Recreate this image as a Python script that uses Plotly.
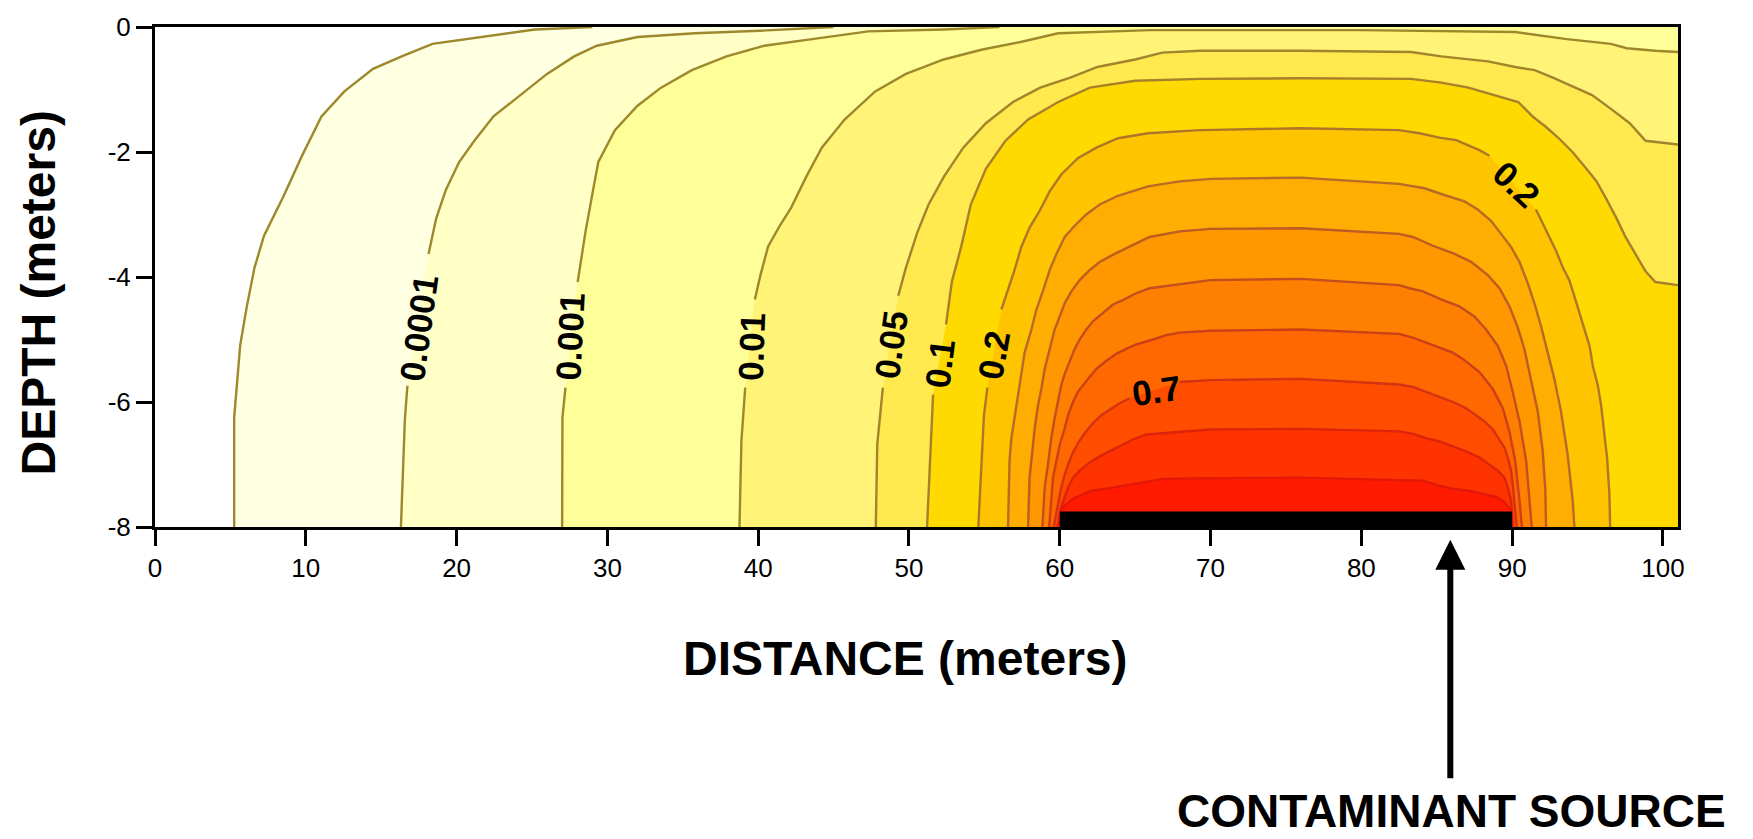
import plotly.graph_objects as go

# ---------------- data ----------------
# contour levels (relative concentration)
LEVELS = [0.00001, 0.0001, 0.001, 0.01, 0.05, 0.1, 0.2, 0.3, 0.4, 0.5, 0.6, 0.7, 0.8, 0.9]

# contour lines: distance (m) and depth (m); None marks the gap where a label sits
X_1E5 = [5.25, 5.25, 5.65, 6.09, 6.6, 7.23, 8.5, 9.77, 11.04, 12.56, 14.46, 16.36, 18.4, 21.7, 25.2, 29.0]
D_1E5 = [-8.0, -6.25, -5.09, -4.47, -3.85, -3.34, -2.72, -2.05, -1.43, -1.03, -0.67, -0.47, -0.27, -0.16, -0.04, 0.0]

X_1E4 = [16.31, 16.57, 16.74, None, 18.14, 18.65, 19.28, 20.17, 21.18, 22.45, 24.23, 26.0, 27.8, 29.3, 32.0, 35.8, 40.1, 45.0]
D_1E4 = [-8.0, -6.28, -5.74, None, -3.63, -3.06, -2.61, -2.16, -1.82, -1.43, -1.09, -0.75, -0.47, -0.3, -0.16, -0.1, -0.06, 0.0]

X_1E3 = [27.0, 27.02, 27.22, None, 28.03, 28.54, 29.05, 29.4, 30.5, 32.0, 33.56, 35.6, 37.9, 40.4, 43.7, 47.3, 52.3, 56.0]
D_1E3 = [-8.0, -6.25, -5.77, None, -4.08, -3.29, -2.61, -2.16, -1.65, -1.26, -0.97, -0.69, -0.47, -0.3, -0.19, -0.07, -0.04, 0.0]

X_1E2 = [38.76, 38.89, 39.14, None, 39.78, 40.15, 40.66, 41.43, 42.19, 43.2, 44.22, 45.73, 47.76, 49.8, 52.3,
         54.87, 57.4, 59.9, 66.0, 80.0, 90.2, 93.5, 96.55, 97.6, 99.5, 101.0]
D_1E2 = [-8.0, -6.62, -5.77, None, -4.36, -3.97, -3.51, -3.18, -2.89, -2.39, -1.93, -1.48, -1.03, -0.75, -0.52,
         -0.36, -0.24, -0.1, -0.05, -0.05, -0.08, -0.19, -0.27, -0.34, -0.38, -0.4]

X_5E2 = [47.8, 47.9, 48.27, None, 49.29, 49.8, 50.55, 51.3, 52.33, 53.6, 55.1, 56.9, 58.7, 60.7, 62.5, 65.0, 66.8,
         69.3, 76.0, 83.3, 85.3, 88.4, 90.2, 91.5, 92.7, 94.0, 95.3, 96.55, 97.8, 98.85, 101.0]
D_5E2 = [-8.0, -6.67, -5.77, None, -4.3, -3.85, -3.29, -2.84, -2.39, -1.93, -1.54, -1.2, -0.97, -0.81, -0.64, -0.52,
         -0.41, -0.38, -0.38, -0.4, -0.47, -0.55, -0.64, -0.69, -0.81, -0.95, -1.09, -1.31, -1.54, -1.82, -1.88]

X_1E1 = [51.2, 51.3, 51.6, None, 52.46, 52.84, 53.47, 54.1, 55.1, 56.4, 57.9, 59.9, 62.0, 65.0, 69.3, 76.0, 83.3,
         85.3, 87.1, 88.9, 90.4, 91.4, 92.25, 93.1, 94.0, 94.9, 95.6, 96.2, 96.9, 97.5, 98.2, 98.85, 99.5, 101.0]
D_1E1 = [-8.0, -7.41, -5.88, None, -4.76, -4.08, -3.51, -2.84, -2.27, -1.82, -1.48, -1.2, -0.97, -0.86, -0.83, -0.82,
         -0.83, -0.89, -0.97, -1.09, -1.2, -1.44, -1.6, -1.78, -2.0, -2.26, -2.47, -2.73, -3.05, -3.35, -3.65, -3.91,
         -4.08, -4.13]

X_2E1 = [54.6, 54.7, 54.97, 55.2, None, 56.13, 56.57, 57.0, 57.45, 58.0, 58.67, 59.33, 60.1, 61.2, 62.43, 63.86,
         65.85, 69.3, 76.0, 82.5, 83.86, 85.18, 86.29, 86.95, 87.83, 88.5, None, 91.58, 92.03, 92.47, 92.91, 93.35,
         93.79, 94.13, 94.46, 94.79, 95.13, 95.35, 95.68, 95.9, 96.12, 96.3, 96.45, 96.5]
D_2E1 = [-8.0, -7.46, -6.22, -5.77, None, -4.52, -4.21, -3.89, -3.52, -3.21, -2.94, -2.63, -2.36, -2.10, -1.93,
         -1.78, -1.70, -1.65, -1.62, -1.65, -1.70, -1.77, -1.81, -1.88, -1.97, -2.06, None, -2.92, -3.15, -3.36,
         -3.58, -3.84, -4.05, -4.31, -4.57, -4.84, -5.10, -5.42, -5.73, -6.05, -6.47, -6.9, -7.47, -8.0]

X_3E1 = [56.57, 56.67, 56.79, 57.0, 57.23, 57.45, 57.67, 58.12, 58.45, 58.9, 59.33, 59.78, 60.33, 60.99, 61.76,
         62.65, 63.86, 65.85, 67.95, 70.0, 76.0, 82.5, 84.19, 85.4, 86.84, 87.72, 88.6, 89.27, 89.93, 90.49, 91.04,
         91.48, 91.92, 92.36, 92.8, 93.24, 93.68, 94.02, 94.13]
D_3E1 = [-8.0, -6.94, -6.58, -6.26, -5.84, -5.52, -5.21, -4.84, -4.52, -4.21, -3.89, -3.63, -3.36, -3.18, -3.0,
         -2.84, -2.70, -2.55, -2.47, -2.43, -2.41, -2.51, -2.58, -2.68, -2.79, -2.92, -3.1, -3.31, -3.52, -3.76,
         -4.1, -4.42, -4.79, -5.21, -5.63, -6.15, -6.84, -7.58, -8.0]

X_4E1 = [57.9, 58.0, 58.18, 58.34, 58.56, 58.78, 59.0, 59.33, 59.66, 60.0, 60.33, 60.77, 61.32, 61.98, 62.65, 63.64,
         64.63, 65.96, 67.95, 70.0, 76.0, 82.5, 83.42, 84.75, 86.19, 87.3, 88.39, 89.16, 89.82, 90.35, 90.81, 91.26,
         91.7, 92.03, 92.2, 92.25]
D_4E1 = [-8.0, -7.21, -6.79, -6.42, -6.05, -5.79, -5.47, -5.15, -4.84, -4.63, -4.42, -4.23, -4.05, -3.89, -3.76,
         -3.63, -3.52, -3.36, -3.27, -3.23, -3.22, -3.31, -3.36, -3.5, -3.63, -3.76, -3.97, -4.18, -4.47, -4.79,
         -5.15, -5.63, -6.15, -6.79, -7.4, -8.0]

X_5E1 = [58.85, 59.0, 59.22, 59.44, 59.66, 59.89, 60.1, 60.33, 60.66, 60.99, 61.32, 61.76, 62.2, 62.87, 63.53,
         64.19, 65.07, 65.96, 67.95, 70.0, 76.0, 82.5, 83.2, 84.08, 85.4, 86.5, 87.5, 88.27, 89.05, 89.6, 90.04,
         90.49, 90.93, 91.15, 91.3]
D_5E1 = [-8.0, -7.37, -7.0, -6.58, -6.26, -6.0, -5.73, -5.55, -5.34, -5.15, -5.0, -4.84, -4.71, -4.58, -4.44,
         -4.37, -4.26, -4.18, -4.11, -4.05, -4.03, -4.13, -4.18, -4.23, -4.37, -4.47, -4.63, -4.84, -5.1, -5.42,
         -5.84, -6.31, -6.94, -7.5, -8.0]

X_6E1 = [59.3, 59.44, 59.55, 59.78, 60.0, 60.33, 60.55, 60.88, 61.2, 61.87, 62.43, 63.09, 63.75, 64.41, 65.07,
         66.18, 67.07, 67.95, 70.0, 76.0, 82.5, 83.42, 84.3, 85.18, 86.07, 86.73, 87.83, 88.72, 89.38, 89.82, 90.2,
         90.49, 90.65]
D_6E1 = [-8.0, -7.63, -7.21, -6.94, -6.68, -6.42, -6.21, -6.0, -5.84, -5.63, -5.47, -5.34, -5.23, -5.15, -5.08,
         -5.0, -4.93, -4.89, -4.86, -4.84, -4.91, -4.97, -5.05, -5.13, -5.21, -5.31, -5.52, -5.79, -6.1, -6.47,
         -6.94, -7.58, -8.0]

X_7E1 = [59.6, 59.89, 60.1, 60.33, 60.55, 60.88, 61.2, 61.65, 62.2, 62.76, 63.31, 63.97, 64.63, None, 67.95, 70.0,
         76.0, 82.5, 83.42, 84.3, 85.18, 86.07, 86.95, 87.61, 88.16, 88.72, 89.16, 89.49, 89.71, 89.93, 90.04,
         90.15, 90.3]
D_7E1 = [-8.0, -7.63, -7.37, -7.16, -7.0, -6.81, -6.66, -6.5, -6.34, -6.21, -6.13, -6.02, -5.94, None, -5.68,
         -5.65, -5.63, -5.72, -5.76, -5.84, -5.92, -6.0, -6.1, -6.21, -6.31, -6.44, -6.6, -6.73, -6.89, -7.1,
         -7.31, -7.58, -8.0]

X_8E1 = [59.85, 60.1, 60.33, 60.55, 60.88, 61.32, 61.98, 62.65, 63.31, 64.19, 64.85, 65.74, 66.84, 67.95, 70.0,
         76.0, 82.5, 83.42, 84.3, 85.18, 86.07, 86.95, 87.83, 88.5, 89.05, 89.49, 89.71, 89.93, 90.05]
D_8E1 = [-8.0, -7.68, -7.52, -7.37, -7.21, -7.1, -6.97, -6.87, -6.79, -6.68, -6.6, -6.52, -6.5, -6.47, -6.44,
         -6.43, -6.47, -6.51, -6.58, -6.63, -6.71, -6.79, -6.89, -7.0, -7.1, -7.21, -7.37, -7.58, -8.0]

X_9E1 = [59.97, 60.1, 60.44, 60.88, 61.32, 62.1, 62.98, 64.85, 66.84, 70.0, 76.0, 82.5, 84.08, 85.18, 86.07,
         87.17, 88.05, 88.94, 89.38, 89.71, 89.93, 90.0]
D_9E1 = [-8.0, -7.71, -7.63, -7.55, -7.5, -7.42, -7.39, -7.31, -7.23, -7.22, -7.21, -7.25, -7.26, -7.34, -7.39,
         -7.42, -7.47, -7.52, -7.58, -7.66, -7.73, -8.0]

# contour labels
LABEL_TEXT = ["0.0001", "0.001", "0.01", "0.05", "0.1", "0.2", "0.7", "0.2"]
LABEL_X = [17.5, 27.52, 39.52, 48.78, 52.03, 55.63, 66.4, 90.31]
LABEL_DEPTH = [-4.81, -4.95, -5.12, -5.09, -5.38, -5.24, -5.81, -2.52]

# contaminant source (distance range, depth range)
SOURCE_X = [60, 90]
SOURCE_DEPTH = [-8.0, -7.75]
SOURCE_ARROW_X = 85.9

X_TICKS = [0, 10, 20, 30, 40, 50, 60, 70, 80, 90, 100]
Y_TICKS = [-8, -6, -4, -2, 0]
Y_TICK_TEXT = ["-8", "-6", "-4", "-2", "0"]
X_RANGE = [0, 101]
Y_RANGE = [-8, 0]

# ---------------- styles ----------------
BAND_COLORS = ["#FFFFE2", "#FFFFC6", "#FFFF9A", "#FFF478", "#FFE94E", "#FFDA00", "#FFC400", "#FFAD00",
               "#FF9700", "#FF8000", "#FF6700", "#FF4D00", "#FF3300", "#FF1A00"]
LINE_COLORS = ["#9E882C", "#9E882C", "#9E882C", "#9E882C", "#A2842C", "#A8802A", "#B07628", "#B86A26",
               "#BE5C22", "#C44E1E", "#CC4018", "#D43212", "#DC240C", "#E41808"]
LABEL_ANGLES = [-82, -87, -88, -82, -83, -80, -8, 43]

CURVES = [(X_1E5, D_1E5), (X_1E4, D_1E4), (X_1E3, D_1E3), (X_1E2, D_1E2), (X_5E2, D_5E2), (X_1E1, D_1E1),
          (X_2E1, D_2E1), (X_3E1, D_3E1), (X_4E1, D_4E1), (X_5E1, D_5E1), (X_6E1, D_6E1), (X_7E1, D_7E1),
          (X_8E1, D_8E1), (X_9E1, D_9E1)]

XMAX = X_RANGE[1]
YBOT = Y_RANGE[0]
YTOP = Y_RANGE[1]

fig = go.Figure()

# filled bands: region above each level, painted from lowest to highest
for i, (xs, ds) in enumerate(CURVES):
    px = [v for v in xs if v is not None]
    py = [v for v in ds if v is not None]
    if py[-1] >= YTOP:
        px += [XMAX, XMAX]
        py += [YTOP, YBOT]
    elif px[-1] >= XMAX:
        px += [XMAX]
        py += [YBOT]
    fig.add_trace(go.Scatter(x=px, y=py, mode="lines", fill="toself", fillcolor=BAND_COLORS[i],
                             line=dict(width=0, color=BAND_COLORS[i]), hoverinfo="skip",
                             name=str(LEVELS[i])))

# contour lines
for i, (xs, ds) in enumerate(CURVES):
    fig.add_trace(go.Scatter(x=xs, y=ds, mode="lines", connectgaps=False,
                             line=dict(width=2.4, color=LINE_COLORS[i]), hoverinfo="skip",
                             name=str(LEVELS[i])))

# source bar
fig.add_shape(type="rect", xref="x", yref="y", x0=SOURCE_X[0], x1=SOURCE_X[1],
              y0=SOURCE_DEPTH[0], y1=SOURCE_DEPTH[1], fillcolor="black", line=dict(width=0),
              layer="above")

annotations = []
for t, x, d, a in zip(LABEL_TEXT, LABEL_X, LABEL_DEPTH, LABEL_ANGLES):
    annotations.append(dict(text=t, x=x, y=d, xref="x", yref="y", showarrow=False, textangle=a,
                            xanchor="center", yanchor="middle",
                            font=dict(family="Liberation Sans, Arial", size=35, color="black",
                                      weight="bold")))

title_font = dict(family="Liberation Sans, Arial", size=48, color="black", weight="bold")
annotations.append(dict(text="DEPTH (meters)", x=-0.0768, y=0.467, xref="paper", yref="paper",
                        showarrow=False, textangle=-90, xanchor="center", yanchor="middle", font=title_font))
annotations.append(dict(text="DISTANCE (meters)", x=0.4931, y=-0.2623, xref="paper", yref="paper",
                        showarrow=False, xanchor="center", yanchor="middle", font=title_font))
annotations.append(dict(text="CONTAMINANT SOURCE", x=0.8516, y=-0.567, xref="paper", yref="paper",
                        showarrow=False, xanchor="center", yanchor="middle",
                        font=dict(family="Liberation Sans, Arial", size=46, color="black", weight="bold")))
annotations.append(dict(text="", x=SOURCE_ARROW_X, y=-0.0256, xref="x", yref="paper", showarrow=True,
                        ax=0, ay=240, arrowhead=2, arrowwidth=6, arrowsize=1, arrowcolor="black",
                        standoff=0))

axis_common = dict(showline=True, linewidth=3, linecolor="black", mirror=True, ticks="outside",
                   ticklen=16, tickwidth=3, tickcolor="black", showgrid=False, zeroline=False,
                   tickfont=dict(family="Liberation Sans, Arial", size=26, color="black"))

fig.update_layout(
    width=1753, height=839,
    margin=dict(l=155, r=75, t=20, b=312),
    plot_bgcolor="white", paper_bgcolor="white",
    showlegend=False,
    xaxis=dict(range=X_RANGE, tickvals=X_TICKS, **axis_common),
    yaxis=dict(range=Y_RANGE, tickvals=Y_TICKS, ticktext=Y_TICK_TEXT, **axis_common),
    annotations=annotations,
)

fig.write_html("out.html")
